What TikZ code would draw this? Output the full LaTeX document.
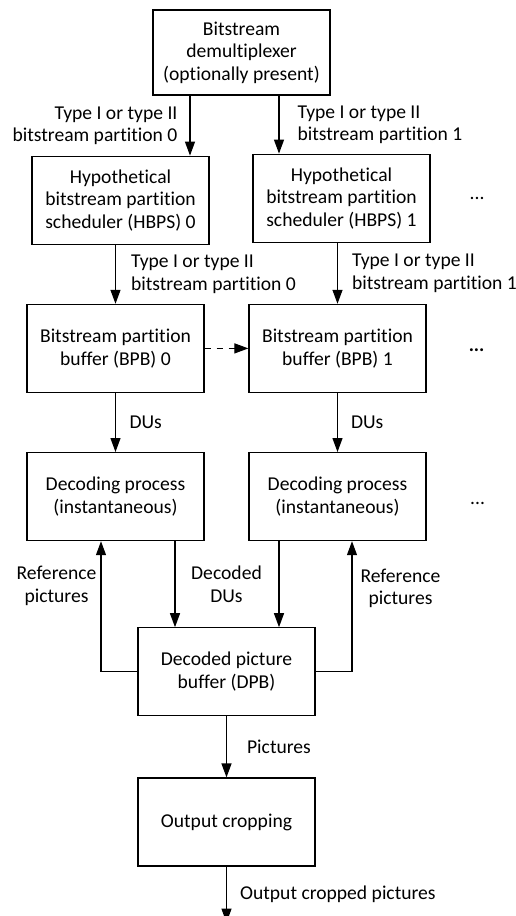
\documentclass[tikz,border=0pt]{standalone}
\usepackage{fontspec}
\setmainfont{Carlito}[Ligatures=NoCommon]
\usetikzlibrary{shapes.geometric, arrows, arrows.meta, positioning}

\begin{document}
\begin{tikzpicture}[node distance=29.5pt, auto, font=\fontsize{9.8}{11.3}\selectfont]
    \tikzstyle{block} = [rectangle, draw, line width=0.6pt, align=center, minimum width=88.5pt, minimum height=44pt, inner sep=0pt]
    \tikzstyle{line} = [draw, line width=0.6pt, -{Triangle[length=7pt, width=5pt]}]
    \tikzstyle{lbl} = [inner sep=0pt]
    \tikzstyle{more} = [inner sep=0pt]

    \useasboundingbox (-120.75pt,26.25pt) rectangle (136.75pt,-431.75pt);

    \node [block, minimum height=42.5pt] (demux) {Bitstream\\demultiplexer\\(optionally present)};
    \node [block, below=30pt of demux, xshift=-60.5pt] (hbps0) {Hypothetical\\bitstream partition\\scheduler (HBPS) 0};
    \node [block, below=29pt of demux, xshift=50pt] (hbps1) {Hypothetical\\bitstream partition\\scheduler (HBPS) 1};
    \node [block, below=of hbps0, xshift=-2.5pt] (bpb0) {Bitstream partition\\buffer (BPB) 0};
    \node [block, below=30.5pt of hbps1, xshift=-2pt] (bpb1) {Bitstream partition\\buffer (BPB) 1};
    \node [block, below=of bpb0] (dec0) {Decoding process\\(instantaneous)};
    \node [block, below=of bpb1] (dec1) {Decoding process\\(instantaneous)};
    \node [block, below=43pt of dec0, xshift=55.5pt] (dpb) {Decoded picture\\buffer (DPB)};
    \node [block, below=30.5pt of dpb] (crop) {Output cropping};
    \coordinate [below=28pt of crop] (out);

    \node [more] (dots0) at ([xshift=23.25pt]hbps1.east) {...};
    \node [more] (dots1) at ([xshift=25pt, yshift=-1pt]bpb1.east) {\textbf{...}};
    \node [more] (dots2) at ([xshift=25.5pt, yshift=-3.5pt]dec1.east) {...};

    \path [line] ([xshift=-25.75pt]demux.south) -- ([xshift=-25.75pt]demux.south |- hbps0.north)
        node [lbl, midway, left=6pt, align=right] {Type I or type II\\bitstream partition 0};
    \path [line] ([xshift=18.75pt]demux.south) -- ([xshift=18.75pt]demux.south |- hbps1.north)
        node [lbl, midway, right=9pt, align=left] {Type I or type II\\bitstream partition 1};
    \path [line] (hbps0.south -| bpb0.north) -- (bpb0.north)
        node [lbl, midway, right=7.5pt, align=left] {Type I or type II\\bitstream partition 0};
    \path [line] (hbps1.south -| bpb1.north) -- (bpb1.north)
        node [lbl, midway, right=7pt, align=left] {Type I or type II\\bitstream partition 1};
    \path [line, dashed] (bpb0) -- (bpb1);
    \path [line] (bpb0) -- (dec0) node [lbl, midway, right=6.75pt] {DUs};
    \path [line] (bpb1) -- (dec1) node [lbl, midway, right=6.5pt] {DUs};
    \path [line] ([xshift=-25.75pt]dpb.north |- dec0.south) -- ([xshift=-25.75pt]dpb.north)
        node [lbl, midway, anchor=center, xshift=25.75pt, align=center] {Decoded\\DUs};
    \path [line] ([xshift=26.25pt]dpb.north |- dec1.south) -- ([xshift=26.25pt]dpb.north);
    \path [line] (dpb.west) -| ([xshift=-7.25pt]dec0.south)
        node [lbl, pos=0.83, left=2pt, align=center] {Reference\\pictures};
    \path [line] (dpb.east) -| ([xshift=7.25pt]dec1.south)
        node [lbl, pos=0.82, right=4pt, align=center] {Reference\\pictures};
    \path [line] (dpb) -- (crop) node [lbl, midway, right=10pt] {Pictures};
    \path [line] (crop) -- (out) node [lbl, midway, right=6.5pt] {Output cropped pictures};
\end{tikzpicture}
\end{document}
